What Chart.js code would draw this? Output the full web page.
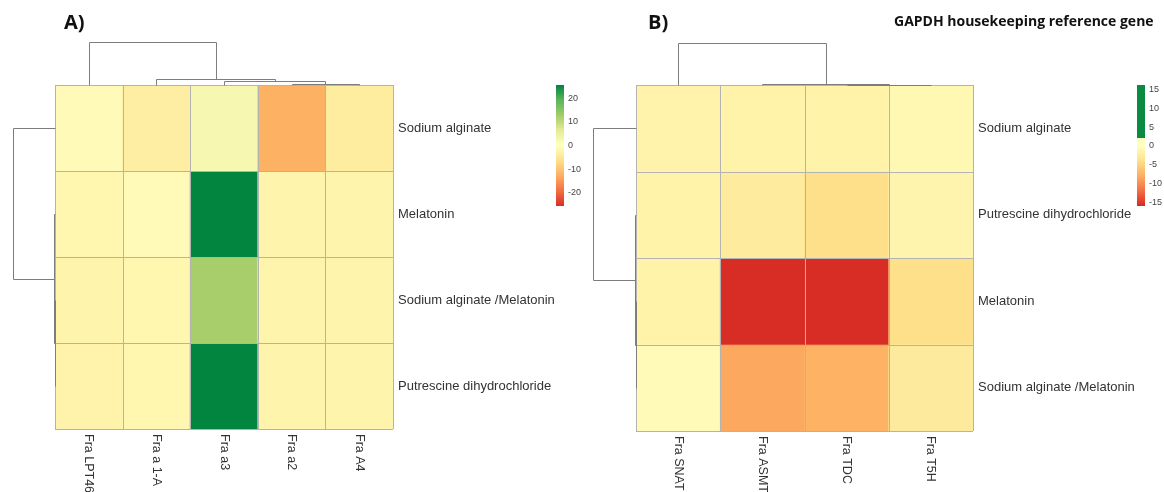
<!DOCTYPE html>
<html>
<head>
<meta charset="utf-8">
<script src="https://cdn.jsdelivr.net/npm/chart.js@4.4.1/dist/chart.umd.min.js"></script>
<style>
  html, body { margin: 0; padding: 0; background: #fff; }
  #wrap { position: relative; width: 1164px; height: 492px; }
  canvas { position: absolute; top: 0; }
  #cA { left: 0; }
  #cB { left: 582px; }
</style>
</head>
<body>
<div id="wrap">
  <canvas id="cA" width="582" height="492"></canvas>
  <canvas id="cB" width="582" height="492"></canvas>
</div>
<script>
// ---- panel A ----
const colsA = ['Fra LPT46', 'Fra a 1-A', 'Fra a3', 'Fra a2', 'Fra A4'];
const rowsA = ['Sodium alginate', 'Melatonin', 'Sodium alginate /Melatonin', 'Putrescine dihydrochloride'];
const valsA = [
  [-1.0, -3.5, 2.2, -12.5, -4.0],
  [-1.9, -1.0, 25.6, -2.3, -2.3],
  [-2.3, -1.9, 12.5, -2.3, -2.3],
  [-2.5, -1.9, 25.6, -2.3, -2.3]
];
// merges: [left, right, height], 'mN' refers to merge N
const colTreeA = [[3, 4, 0.02], [2, 'm0', 0.09], [1, 'm1', 0.14], [0, 'm2', 1]];
const rowTreeA = [[2, 3, 0.0], [1, 'm0', 0.02], [0, 'm1', 1]];
const rangeA = [-25.7, 25.7];
const ticksA = [20, 10, 0, -10, -20];

// ---- panel B ----
const colsB = ['Fra SNAT', 'Fra ASMT', 'Fra TDC', 'Fra T5H'];
const rowsB = ['Sodium alginate', 'Putrescine dihydrochloride', 'Melatonin', 'Sodium alginate /Melatonin'];
const valsB = [
  [-1.5, -1.6, -1.7, -0.9],
  [-1.6, -2.6, -4.0, -1.4],
  [-1.6, -15.8, -15.8, -4.0],
  [-0.6, -8.3, -7.7, -2.7]
];
const colTreeB = [[2, 3, 0.0], [1, 'm0', 0.03], [0, 'm1', 1]];
const rowTreeB = [[2, 3, 0.0], [1, 'm0', 0.02], [0, 'm1', 1]];
const rangeB = [-16, 16.2];
const ticksB = [15, 10, 5, 0, -5, -10, -15];

Chart.defaults.font.family = "'Liberation Sans', Arial, sans-serif";

const stopsA = [
  [-25.7, '#d73027'], [-19.3, '#f46d43'], [-12.85, '#fdae61'], [-6.4, '#fee08b'],
  [0, '#ffffbf'], [6.4, '#e4ec98'], [12.85, '#a3cc67'], [19.3, '#5cb55c'], [25.7, '#00843f']
];
const stopsB = [
  [-16, '#d52a22'], [-12, '#f46d43'], [-8, '#fdae61'], [-4, '#fee08b'],
  [0, '#ffffbf'], [2.1, '#fbfbc0'], [2.11, '#0b8a41'], [16.2, '#0b8a41']
];

function hexRgb(h) {
  return [parseInt(h.slice(1, 3), 16), parseInt(h.slice(3, 5), 16), parseInt(h.slice(5, 7), 16)];
}
function colorFor(v, stops) {
  if (v <= stops[0][0]) return stops[0][1];
  for (let i = 1; i < stops.length; i++) {
    if (v <= stops[i][0]) {
      const t = (v - stops[i - 1][0]) / (stops[i][0] - stops[i - 1][0]);
      const a = hexRgb(stops[i - 1][1]), b = hexRgb(stops[i][1]);
      const c = a.map((x, k) => Math.round(x + (b[k] - x) * t));
      return 'rgb(' + c.join(',') + ')';
    }
  }
  return stops[stops.length - 1][1];
}

function drawTree(ctx, tree, leafPos, base, span, onTop) {
  const pos = [], hgt = [];
  const get = k => typeof k === 'string' ? [pos[+k.slice(1)], hgt[+k.slice(1)]] : [leafPos(k), 0];
  const d = v => Math.round(base - v * span) + 0.5;
  tree.forEach(([a, b, h], i) => {
    const [pa, ha] = get(a), [pb, hb] = get(b);
    pos[i] = (pa + pb) / 2;
    hgt[i] = h;
    const qa = Math.round(pa) + 0.5, qb = Math.round(pb) + 0.5;
    ctx.beginPath();
    if (onTop) {
      ctx.moveTo(qa, d(ha)); ctx.lineTo(qa, d(h)); ctx.lineTo(qb, d(h)); ctx.lineTo(qb, d(hb));
    } else {
      ctx.moveTo(d(ha), qa); ctx.lineTo(d(h), qa); ctx.lineTo(d(h), qb); ctx.lineTo(d(hb), qb);
    }
    ctx.stroke();
  });
}

function makeHeatmap(id, p) {
  const heatPlugin = {
    id: 'heat',
    afterDatasetsDraw(chart) {
      const ctx = chart.ctx, x = chart.scales.x, y = chart.scales.y, ca = chart.chartArea;
      ctx.save();
      // cell borders
      ctx.strokeStyle = '#b3b3b3';
      ctx.lineWidth = 1;
      for (let i = 0; i <= p.cols.length; i++) {
        const px = Math.round(x.getPixelForValue(i - 0.5)) + 0.5;
        ctx.beginPath(); ctx.moveTo(px, ca.top); ctx.lineTo(px, ca.bottom); ctx.stroke();
      }
      for (let j = 0; j <= p.rows.length; j++) {
        const py = Math.round(y.getPixelForValue(j)) + 0.5;
        ctx.beginPath(); ctx.moveTo(ca.left, py); ctx.lineTo(ca.right, py); ctx.stroke();
      }
      // dendrograms
      ctx.strokeStyle = '#7d7d7d';
      drawTree(ctx, p.colTree, i => x.getPixelForValue(i), ca.top, p.treeH, true);
      drawTree(ctx, p.rowTree, j => y.getPixelForValue(j + 0.5), ca.left, p.treeW, false);
      // column labels, rotated
      ctx.fillStyle = '#333';
      ctx.font = "12.5px 'Liberation Sans', Arial, sans-serif";
      ctx.textAlign = 'left';
      ctx.textBaseline = 'middle';
      p.cols.forEach((c, i) => {
        ctx.save();
        ctx.translate(x.getPixelForValue(i), ca.bottom + 5);
        ctx.rotate(Math.PI / 2);
        ctx.fillText(c, 0, 0);
        ctx.restore();
      });
      // colour key
      const cb = p.cbar, [vmin, vmax] = p.range;
      for (let k = 0; k < cb.h; k++) {
        const v = vmax - (k + 0.5) / cb.h * (vmax - vmin);
        ctx.fillStyle = colorFor(v, p.stops);
        ctx.fillRect(cb.x, cb.y + k, cb.w, 1);
      }
      ctx.fillStyle = '#444';
      ctx.font = "9px 'Liberation Sans', Arial, sans-serif";
      p.ticks.forEach(t => {
        const ty = cb.y + (vmax - t) / (vmax - vmin) * cb.h;
        ctx.fillText(String(t), cb.x + cb.w + 4, ty);
      });
      // panel titles
      ctx.fillStyle = '#111';
      p.titles.forEach(tt => {
        ctx.font = tt.font;
        ctx.textBaseline = 'alphabetic';
        ctx.fillText(tt.text, tt.x, tt.y);
      });
      ctx.restore();
    }
  };

  return new Chart(document.getElementById(id), {
    type: 'bar',
    data: {
      labels: p.cols,
      datasets: p.rows.map((r, i) => ({
        label: r,
        data: p.cols.map(() => 1),
        backgroundColor: p.vals[i].map(v => colorFor(v, p.stops)),
        borderWidth: 0,
        barPercentage: 1,
        categoryPercentage: 1
      }))
    },
    options: {
      responsive: false,
      animation: false,
      layout: { padding: p.pad },
      plugins: { legend: { display: false }, tooltip: { enabled: false } },
      scales: {
        x: { type: 'category', stacked: true, display: false },
        y: { type: 'linear', stacked: true, reverse: true, min: 0, max: p.rows.length, display: false },
        rows: {
          type: 'category',
          labels: p.rows,
          position: 'right',
          offset: true,
          grid: { display: false, drawTicks: false },
          border: { display: false },
          ticks: { color: '#333', padding: 5, font: { size: 13 } },
          afterFit: s => { s.width = p.labelW; }
        }
      }
    },
    plugins: [heatPlugin]
  });
}

makeHeatmap('cA', {
  cols: colsA, rows: rowsA, vals: valsA, colTree: colTreeA, rowTree: rowTreeA,
  range: rangeA, ticks: ticksA, stops: stopsA,
  pad: { left: 55, top: 85, bottom: 63, right: 0 }, labelW: 189,
  treeH: 43, treeW: 42,
  cbar: { x: 556, y: 85, w: 8, h: 121 },
  titles: [{ text: 'A)', x: 64, y: 29, font: "bold 20px 'Open Sans', Arial, sans-serif" }]
});

makeHeatmap('cB', {
  cols: colsB, rows: rowsB, vals: valsB, colTree: colTreeB, rowTree: rowTreeB,
  range: rangeB, ticks: ticksB, stops: stopsB,
  pad: { left: 54, top: 85, bottom: 61, right: 0 }, labelW: 191,
  treeH: 42, treeW: 43,
  cbar: { x: 555, y: 85, w: 8, h: 121 },
  titles: [
    { text: 'B)', x: 66, y: 29, font: "bold 20px 'Open Sans', Arial, sans-serif" },
    { text: 'GAPDH housekeeping reference gene', x: 312, y: 26, font: "bold 14px 'Open Sans', Arial, sans-serif" }
  ]
});
</script>
</body>
</html>
